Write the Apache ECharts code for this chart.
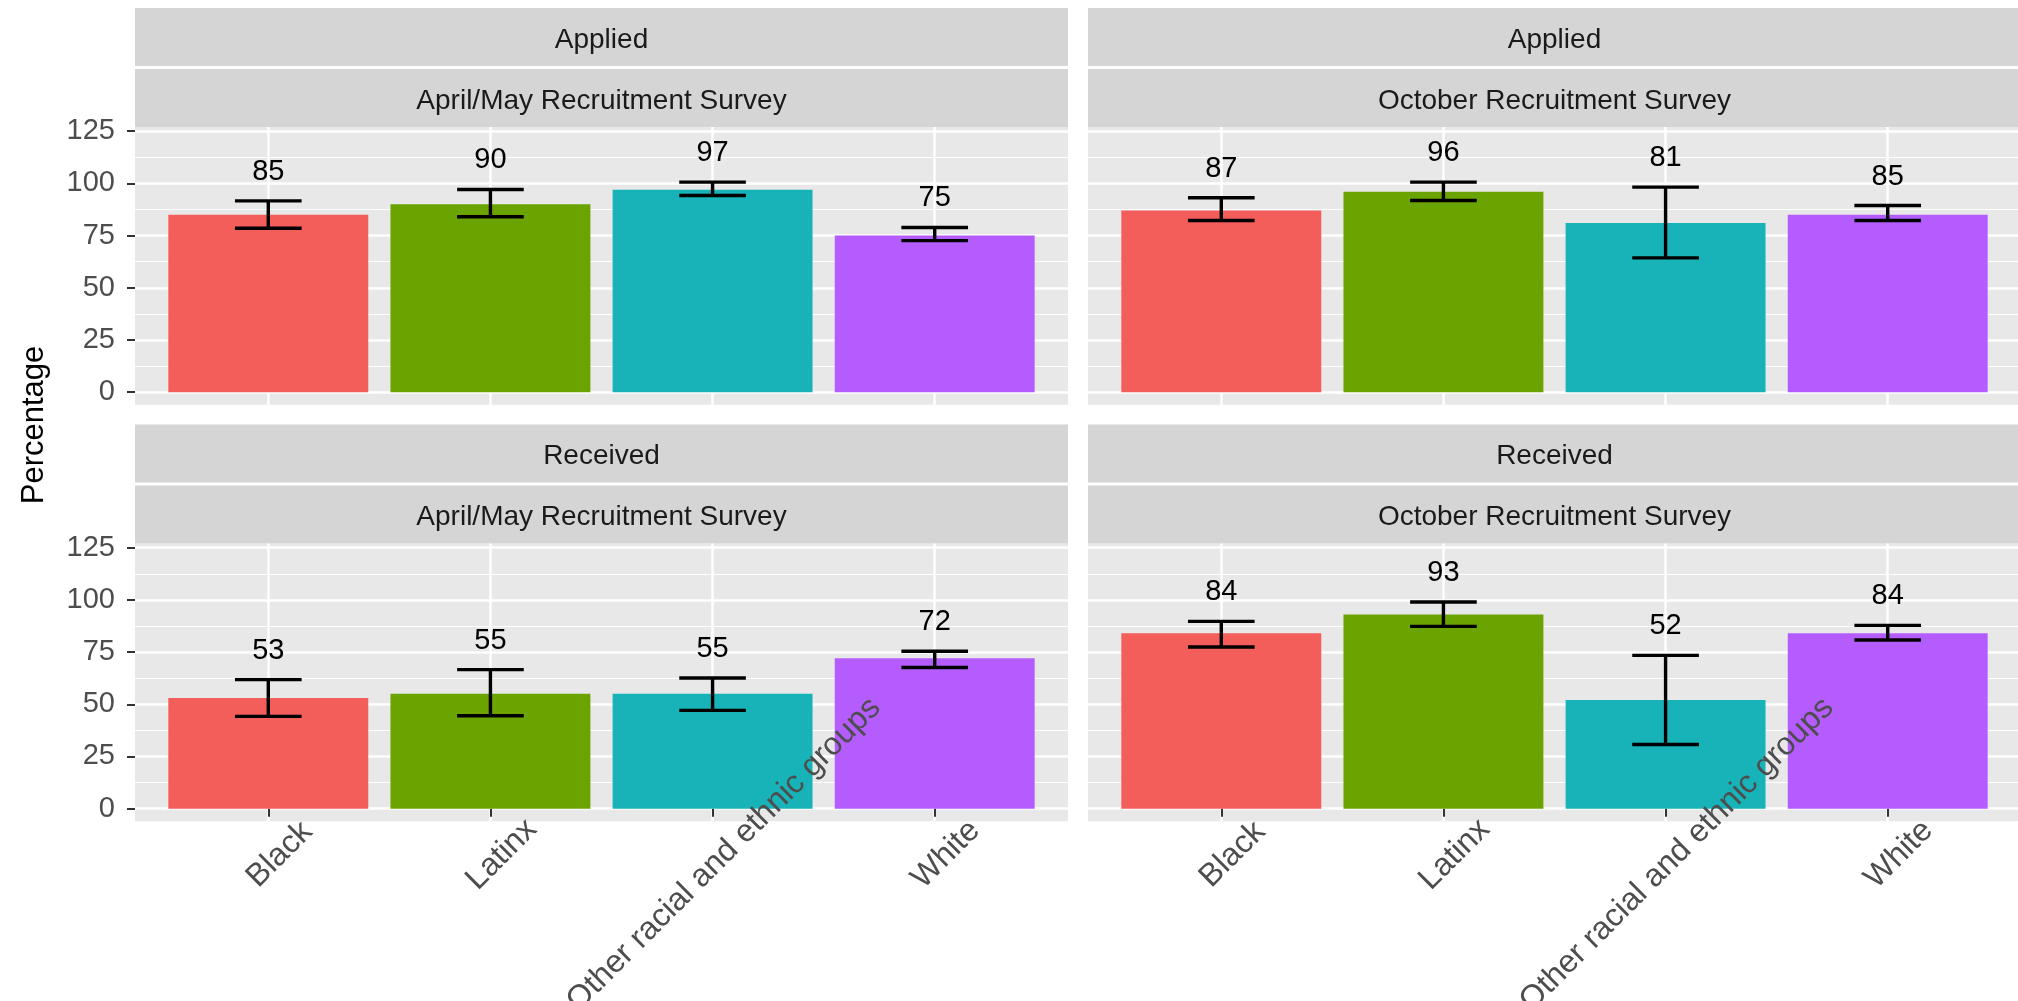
<!DOCTYPE html>
<html><head><meta charset="utf-8">
<script src="https://cdn.jsdelivr.net/npm/echarts@6/dist/echarts.min.js"></script>
<style>html,body{margin:0;padding:0;background:#fff}#c{width:2018px;height:1001px}</style>
</head><body><div id="c"></div>
<script>
// ---- data ----
const categories = ['Black', 'Latinx', 'Other racial and ethnic groups', 'White'];
const measures = ['Applied', 'Received'];
const surveys = ['April/May Recruitment Survey', 'October Recruitment Survey'];

const appliedAprMay      = [85, 90, 97, 75];
const appliedAprMayLow   = [78.5, 84.0, 94.2, 72.6];
const appliedAprMayHigh  = [91.6, 97.1, 100.6, 78.9];

const appliedOct         = [87, 96, 81, 85];
const appliedOctLow      = [82.2, 91.8, 64.3, 82.2];
const appliedOctHigh     = [93.1, 100.6, 98.2, 89.4];

const receivedAprMay     = [53, 55, 55, 72];
const receivedAprMayLow  = [44.2, 44.5, 47.1, 67.6];
const receivedAprMayHigh = [61.8, 66.6, 62.6, 75.4];

const receivedOct        = [84, 93, 52, 84];
const receivedOctLow     = [77.4, 87.3, 30.7, 80.8];
const receivedOctHigh    = [89.7, 99.0, 73.4, 87.8];

const yTicks = [0, 25, 50, 75, 100, 125];

// ---- styling / layout ----
const COLORS = ['#F35D5A', '#6BA400', '#17B3B8', '#B55CFF'];
const FONT = '"Liberation Sans", Arial, Helvetica, sans-serif';
const PANEL_BG = '#E8E8E8', STRIP_BG = '#D5D5D5';
const PANEL_W = 933, PANEL_H = 277.7;
const COL_X = [135, 1088];
const PANEL_Y = [127, 543.5];
const STRIP_Y = [8, 424.5];
const STRIP_H = 58, STRIP_GAP = 3;
const ERR_W = 0.3;
const catTicks = categories.map((c, k) => k + 1);

const panels = [
  {r: 0, c: 0, m: 0, s: 0, v: appliedAprMay,  lo: appliedAprMayLow,  hi: appliedAprMayHigh},
  {r: 0, c: 1, m: 0, s: 1, v: appliedOct,     lo: appliedOctLow,     hi: appliedOctHigh},
  {r: 1, c: 0, m: 1, s: 0, v: receivedAprMay, lo: receivedAprMayLow, hi: receivedAprMayHigh},
  {r: 1, c: 1, m: 1, s: 1, v: receivedOct,    lo: receivedOctLow,    hi: receivedOctHigh}
];

function renderErr(params, api) {
  const x = api.value(0), lo = api.value(1), hi = api.value(2), val = api.value(3);
  const pHi = api.coord([x, hi]);
  const pLo = api.coord([x, lo]);
  const hw = api.size([ERR_W, 0])[0] / 2;
  const st = {stroke: '#000', lineWidth: 3.4, fill: null};
  return {
    type: 'group',
    children: [
      {type: 'line', shape: {x1: pHi[0], y1: pHi[1], x2: pLo[0], y2: pLo[1]}, style: st},
      {type: 'line', shape: {x1: pHi[0] - hw, y1: pHi[1], x2: pHi[0] + hw, y2: pHi[1]}, style: st},
      {type: 'line', shape: {x1: pLo[0] - hw, y1: pLo[1], x2: pLo[0] + hw, y2: pLo[1]}, style: st},
      {type: 'text', x: pHi[0], y: pHi[1] - 29,
       style: {text: String(val), fill: '#000', font: '29px ' + FONT,
               textAlign: 'center', textVerticalAlign: 'middle', align: 'center', verticalAlign: 'middle'}}
    ]
  };
}

const grids = [], xAxes = [], yAxes = [], series = [], graphics = [];
panels.forEach((p, i) => {
  grids.push({left: COL_X[p.c], top: PANEL_Y[p.r], width: PANEL_W, height: PANEL_H,
    show: true, backgroundColor: PANEL_BG, borderWidth: 0, containLabel: false, outerBoundsMode: 'none'});
  // data axis: gridlines + ticks
  xAxes.push({
    type: 'value', gridIndex: i, position: 'bottom', min: 0.4, max: 4.6, minInterval: 1, maxInterval: 1,
    axisLine: {show: false},
    axisTick: {show: p.r === 1, length: 8, customValues: catTicks, lineStyle: {color: '#333', width: 2}},
    axisLabel: {show: false, customValues: catTicks},
    splitLine: {show: true, lineStyle: {color: '#FFFFFF', width: 2.5}}
  });
  yAxes.push({
    type: 'value', gridIndex: i, min: -6, max: 127, minInterval: 25, maxInterval: 25,
    axisLine: {show: false},
    axisTick: {show: p.c === 0, length: 8, customValues: yTicks, lineStyle: {color: '#333', width: 2}},
    axisLabel: {show: p.c === 0, customValues: yTicks, margin: 20,
      fontSize: 29, fontFamily: FONT, color: '#4D4D4D'},
    splitLine: {show: true, lineStyle: {color: '#FFFFFF', width: 2.5}},
    minorTick: {show: false, splitNumber: 2},
    minorSplitLine: {show: true, lineStyle: {color: '#FFFFFF', width: 1.2}}
  });
  series.push({
    type: 'bar', xAxisIndex: i, yAxisIndex: i, barWidth: '90%', silent: true,
    data: p.v.map((v, k) => ({value: [k + 1, v], itemStyle: {color: COLORS[k]}}))
  });
  series.push({
    type: 'custom', xAxisIndex: i, yAxisIndex: i, silent: true, z: 5,
    renderItem: renderErr, encode: {x: 0, y: [1, 2]},
    data: p.v.map((v, k) => [k + 1, p.lo[k], p.hi[k], v])
  });
  // facet strips
  const sx = COL_X[p.c], sy = STRIP_Y[p.r];
  const labels = [measures[p.m], surveys[p.s]];
  labels.forEach((t, j) => {
    const y0 = sy + j * (STRIP_H + STRIP_GAP);
    graphics.push({type: 'rect', shape: {x: sx, y: y0, width: PANEL_W, height: STRIP_H},
      style: {fill: STRIP_BG}, silent: true, z: 0});
    graphics.push({type: 'text', x: sx + PANEL_W / 2, y: y0 + STRIP_H / 2 + 3, silent: true, z: 1,
      style: {text: t, fill: '#1A1A1A', font: '28px ' + FONT,
              textAlign: 'center', textVerticalAlign: 'middle', align: 'center', verticalAlign: 'middle'}});
  });
});

// category label axes (drawn above the bars, as in the reference)
panels.forEach((p, i) => {
  if (p.r !== 1) return;
  xAxes.push({
    type: 'value', gridIndex: i, position: 'bottom', offset: 0, z: 4,
    min: 0.4, max: 4.6, minInterval: 1, maxInterval: 1,
    axisLine: {show: false}, axisTick: {show: false, customValues: catTicks},
    splitLine: {show: false},
    axisLabel: {show: true, customValues: catTicks,
      formatter: v => categories[Math.round(v) - 1] || '',
      rotate: 45, align: 'center', verticalAlign: 'top', margin: 22,
      fontSize: 32, fontFamily: FONT, color: '#4D4D4D'}
  });
});

graphics.push({type: 'text', x: 34, y: 425, rotation: Math.PI / 2, silent: true,
  style: {text: 'Percentage', fill: '#000', font: '31px ' + FONT,
          textAlign: 'center', textVerticalAlign: 'middle', align: 'center', verticalAlign: 'middle'}});

const chart = echarts.init(document.getElementById('c'), null, {renderer: 'canvas'});
chart.setOption({
  animation: false,
  backgroundColor: '#FFFFFF',
  grid: grids, xAxis: xAxes, yAxis: yAxes, series: series, graphic: graphics
});
</script></body></html>
